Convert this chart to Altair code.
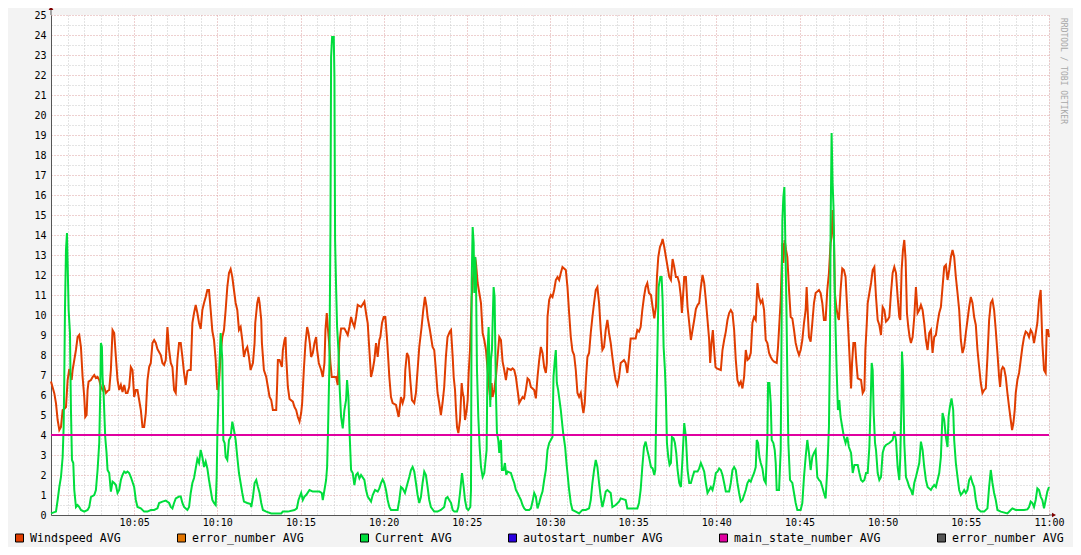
import altair as alt
import pandas as pd

# ---------------- data (minutes after 10:00, value) ----------------
wind_t = [
    0.0, 0.2, 0.3, 0.4, 0.5, 0.6, 0.7, 0.8, 0.9, 1.0,
    1.1, 1.24, 1.3, 1.4, 1.5, 1.6, 1.7, 1.8, 1.9, 2.0,
    2.06, 2.14, 2.2, 2.26, 2.4, 2.5, 2.6, 2.7, 2.8, 2.9,
    3.0, 3.1, 3.2, 3.3, 3.4, 3.5, 3.6, 3.7, 3.8, 3.9,
    4.0, 4.1, 4.2, 4.3, 4.4, 4.5, 4.6, 4.7, 4.8, 4.9,
    5.0, 5.1, 5.2, 5.3, 5.4, 5.5, 5.6, 5.7, 5.8, 5.9,
    6.0, 6.1, 6.2, 6.3, 6.4, 6.6, 6.7, 6.8, 6.9, 7.0,
    7.1, 7.2, 7.3, 7.4, 7.5, 7.6, 7.7, 7.8, 7.9, 8.0,
    8.1, 8.2, 8.3, 8.4, 8.5, 8.6, 8.7, 8.8, 8.9, 9.0,
    9.1, 9.2, 9.3, 9.4, 9.5, 9.6, 9.7, 9.8, 9.9, 10.0,
    10.1, 10.2, 10.3, 10.4, 10.5, 10.6, 10.7, 10.8, 10.9, 11.0,
    11.1, 11.2, 11.3, 11.4, 11.5, 11.6, 11.7, 11.8, 11.9, 12.0,
    12.14, 12.24, 12.28, 12.4, 12.48, 12.54, 12.64, 12.68, 12.8, 12.94,
    13.04, 13.14, 13.24, 13.34, 13.54, 13.6, 13.64, 13.74, 13.88, 13.94,
    14.04, 14.1, 14.14, 14.24, 14.34, 14.54, 14.64, 14.74, 14.84, 14.94,
    15.04, 15.1, 15.2, 15.3, 15.4, 15.48, 15.56, 15.64, 15.74, 15.84,
    15.94, 16.0, 16.1, 16.24, 16.34, 16.44, 16.5, 16.58, 16.64, 16.72,
    16.8, 16.88, 17.04, 17.14, 17.24, 17.34, 17.44, 17.64, 17.84, 17.94,
    18.04, 18.14, 18.24, 18.34, 18.44, 18.64, 18.84, 18.94, 19.04, 19.14,
    19.24, 19.34, 19.44, 19.54, 19.64, 19.74, 19.8, 19.9, 20.0, 20.1,
    20.2, 20.28, 20.34, 20.44, 20.54, 20.74, 20.9, 21.04, 21.14, 21.24,
    21.3, 21.4, 21.5, 21.6, 21.7, 21.84, 21.94, 22.04, 22.14, 22.28,
    22.38, 22.48, 22.58, 22.64, 22.78, 22.94, 23.04, 23.14, 23.24, 23.34,
    23.44, 23.54, 23.64, 23.74, 23.84, 23.98,
    24.05, 24.15, 24.21, 24.29, 24.35, 24.41, 24.49, 24.59, 24.69, 24.75,
    24.81, 24.89, 24.99, 25.05, 25.11, 25.19, 25.29, 25.35, 25.41, 25.49,
    25.55, 25.65, 25.75, 25.85, 25.95, 26.05, 26.15, 26.25, 26.35, 26.41,
    26.49, 26.55, 26.65, 26.75, 26.85, 26.95, 27.05, 27.15, 27.25, 27.35,
    27.45, 27.65, 27.75, 27.85, 27.95, 28.05, 28.15, 28.25, 28.35, 28.45,
    28.55, 28.65, 28.75, 28.85, 29.05, 29.15, 29.25, 29.35, 29.45, 29.55,
    29.65, 29.75, 29.81, 29.85, 29.95, 30.05, 30.15, 30.25, 30.35, 30.45,
    30.55, 30.65, 30.75, 30.95, 31.05, 31.15, 31.25, 31.35, 31.45, 31.55,
    31.65, 31.75, 31.85, 31.95, 32.01, 32.09, 32.17, 32.25, 32.35, 32.45,
    32.55, 32.65, 32.75, 32.85, 32.95, 33.05, 33.15, 33.25, 33.35, 33.45,
    33.55, 33.65, 33.75, 33.85, 33.95, 34.05, 34.15, 34.25, 34.45, 34.55,
    34.65, 34.75, 34.85, 35.15, 35.25, 35.35, 35.45, 35.55, 35.65, 35.75,
    35.85, 35.95,
    36.07, 36.17, 36.27, 36.37, 36.43, 36.51, 36.61, 36.71, 36.77, 36.87,
    36.97, 37.07, 37.17, 37.27, 37.37, 37.47, 37.57, 37.67, 37.77, 37.87,
    37.93, 38.01, 38.07, 38.17, 38.27, 38.37, 38.47, 38.57, 38.67, 38.77,
    38.87, 38.97, 39.07, 39.17, 39.27, 39.37, 39.47, 39.57, 39.63, 39.71,
    39.79, 39.87, 39.95, 40.03, 40.27, 40.37, 40.47, 40.57, 40.67, 40.77,
    40.87, 40.97, 41.07, 41.17, 41.27, 41.37, 41.47, 41.57, 41.67, 41.77,
    41.87, 41.97, 42.07, 42.17, 42.27, 42.37, 42.47, 42.57, 42.67, 42.77,
    42.87, 42.97, 43.07, 43.17, 43.27, 43.37, 43.47, 43.63, 43.71, 43.79,
    43.87, 43.97, 44.03, 44.11, 44.19, 44.27, 44.37, 44.47, 44.57, 44.67,
    44.77, 44.87, 44.97, 45.07, 45.17, 45.27, 45.37, 45.43, 45.51, 45.57,
    45.67, 45.77, 45.87, 45.97, 46.17, 46.27, 46.37, 46.47, 46.57, 46.67,
    46.77, 46.87, 46.93, 46.99, 47.07, 47.13, 47.21, 47.31, 47.37, 47.47,
    47.57, 47.67, 47.77, 47.87, 47.97,
    48.1, 48.16, 48.24, 48.34, 48.42, 48.5, 48.7, 48.8, 48.9, 48.96,
    49.04, 49.1, 49.2, 49.3, 49.4, 49.5, 49.6, 49.7, 49.8, 49.9,
    50.0, 50.1, 50.2, 50.3, 50.4, 50.5, 50.6, 50.7, 50.8, 50.9,
    51.0, 51.06, 51.14, 51.22, 51.3, 51.38, 51.46, 51.54, 51.62, 51.7,
    51.8, 51.9, 52.0, 52.1, 52.2, 52.3, 52.4, 52.5, 52.6, 52.7,
    52.8, 52.9, 53.0, 53.1, 53.2, 53.3, 53.4, 53.5, 53.6, 53.7,
    53.8, 53.9, 54.0, 54.1, 54.2, 54.3, 54.4, 54.5, 54.6, 54.7,
    54.8, 54.9, 55.0, 55.1, 55.2, 55.3, 55.4, 55.5, 55.6, 55.7,
    55.8, 55.9, 56.0, 56.1, 56.2, 56.3, 56.4, 56.5, 56.6, 56.7,
    56.8, 56.9, 57.0, 57.06, 57.14, 57.22, 57.3, 57.4, 57.5, 57.6,
    57.7, 57.78, 57.86, 57.94, 58.0, 58.1, 58.2, 58.3, 58.4, 58.5,
    58.6, 58.7, 58.8, 58.9, 59.0, 59.1, 59.2, 59.3, 59.4, 59.5,
    59.6, 59.7, 59.8, 59.86, 59.94, 60.0,
]
wind_v = [
    6.67, 6.08, 5.58, 4.75, 4.25, 4.4, 5.25, 5.3, 5.4, 6.75,
    7.3, 6.75, 7.25, 7.75, 8.25, 8.9, 9.0, 8.4, 6.9, 5.9,
    4.9, 5.0, 6.25, 6.67, 6.75, 6.9, 7.0, 6.85, 6.9, 6.75,
    6.4, 6.25, 6.4, 6.1, 6.2, 6.25, 7.25, 9.25, 9.1, 7.9,
    6.75, 6.25, 6.5, 6.15, 6.5, 6.1, 6.1, 6.4, 7.4, 7.25,
    5.9, 6.25, 6.25, 5.75, 5.25, 4.4, 4.4, 5.1, 6.75, 7.4,
    7.6, 8.6, 8.75, 8.6, 8.3, 8.0, 7.6, 7.5, 7.75, 9.4,
    8.25, 7.6, 7.4, 6.25, 6.1, 7.75, 8.6, 8.6, 7.9, 7.1,
    6.5, 7.2, 7.25, 7.25, 9.6, 10.1, 10.5, 10.1, 9.6, 9.3,
    10.25, 10.6, 10.9, 11.25, 11.25, 10.25, 9.2, 8.75, 7.75, 6.25,
    6.6, 8.1, 8.9, 9.25, 10.25, 11.4, 12.1, 12.3, 11.9, 11.25,
    10.6, 10.25, 9.25, 9.4, 8.75, 7.9, 8.25, 8.4, 7.9, 7.25,
    7.6, 8.6, 9.6, 10.6, 10.9, 10.6, 9.75, 8.6, 7.25, 6.9,
    6.4, 5.9, 5.75, 5.25, 5.25, 6.6, 7.75, 7.75, 7.4, 8.25,
    8.75, 8.9, 7.9, 6.4, 5.8, 5.67, 5.4, 5.25, 4.9, 4.67,
    5.1, 5.6, 7.25, 8.6, 9.4, 9.1, 8.6, 7.9, 8.1, 8.6,
    8.9, 8.25, 7.6, 7.25, 6.9, 7.6, 9.25, 10.1, 9.4, 8.6,
    7.6, 6.9, 6.9, 6.9, 6.5, 8.6, 9.33, 9.33, 9.0, 9.4,
    9.9, 9.6, 9.4, 9.9, 10.5, 10.4, 10.67, 10.1, 9.6, 8.25,
    6.9, 7.25, 7.75, 8.6, 7.9, 8.75, 8.9, 9.6, 9.9, 9.9,
    8.83, 7.75, 6.9, 5.9, 5.6, 5.5, 4.9, 5.9, 5.6, 5.9,
    7.25, 8.1, 7.9, 6.75, 5.75, 5.6, 6.1, 7.25, 8.4, 9.4,
    10.25, 10.9, 10.4, 9.9, 9.25, 8.4, 8.25, 7.25, 6.1, 5.6,
    5.0, 5.6, 6.4, 7.9, 8.9, 9.17,
    9.25, 7.9, 6.9, 6.25, 5.25, 4.4, 4.1, 4.75, 6.6, 6.1,
    5.9, 4.75, 5.25, 5.75, 7.1, 8.25, 10.9, 11.6, 12.25, 12.9,
    12.6, 11.6, 11.1, 10.6, 9.1, 8.75, 8.25, 7.25, 6.25, 5.75,
    6.6, 5.9, 6.25, 6.9, 7.9, 8.9, 8.75, 7.67, 7.25, 6.75,
    7.33, 7.25, 7.33, 7.25, 6.9, 6.25, 5.6, 5.75, 5.9, 5.83,
    6.25, 6.83, 6.75, 6.4, 6.25, 5.83, 6.9, 7.75, 8.4, 8.1,
    7.4, 7.1, 7.6, 9.9, 10.75, 11.0, 10.9, 11.25, 11.75, 11.9,
    11.75, 12.1, 12.4, 12.25, 11.4, 10.1, 8.9, 8.2, 8.0, 7.25,
    6.1, 5.9, 6.1, 5.4, 5.1, 5.6, 6.9, 7.9, 8.1, 9.1,
    9.9, 10.6, 11.25, 11.4, 10.6, 9.25, 8.25, 8.4, 9.25, 9.75,
    9.1, 8.6, 7.9, 7.25, 6.75, 6.5, 6.9, 7.6, 7.75, 7.6,
    7.1, 7.9, 8.83, 8.83, 9.25, 9.17, 9.4, 10.25, 10.9, 11.4,
    11.6, 11.1,
    11.0, 10.4, 9.83, 10.4, 11.9, 12.9, 13.4, 13.6, 13.8, 13.4,
    12.9, 12.4, 11.9, 11.75, 12.8, 12.4, 11.9, 11.9, 11.6, 10.9,
    10.1, 11.1, 11.9, 11.9, 10.4, 9.6, 8.75, 9.25, 9.75, 10.3,
    10.5, 10.6, 11.4, 12.0, 11.6, 10.75, 9.75, 8.75, 7.6, 8.6,
    9.25, 8.25, 7.4, 7.33, 7.25, 8.25, 8.75, 9.17, 9.75, 10.1,
    10.25, 10.1, 9.25, 7.75, 6.75, 6.5, 6.67, 6.33, 6.9, 8.25,
    7.75, 7.83, 8.1, 9.6, 9.9, 9.75, 11.6, 10.9, 10.6, 10.75,
    10.25, 8.75, 8.6, 8.1, 7.9, 7.75, 7.67, 7.6, 8.4, 9.6,
    10.75, 13.6, 12.6, 13.75, 13.25, 12.9, 11.25, 9.9, 9.83, 9.25,
    8.6, 8.25, 8.0, 8.25, 8.75, 9.6, 10.25, 11.4, 9.9, 8.9,
    8.67, 9.6, 10.6, 11.1, 11.25, 11.1, 10.6, 9.75, 9.75, 11.25,
    12.1, 13.6, 13.9, 15.25, 13.9, 11.1, 10.4, 9.9, 9.75, 11.25,
    12.33, 12.25, 11.9, 10.25, 8.6,
    6.33, 7.6, 8.6, 8.6, 7.6, 6.83, 6.75, 6.1, 6.25, 8.25,
    9.5, 10.6, 11.1, 11.6, 12.25, 12.4, 10.9, 9.75, 9.5, 9.0,
    10.4, 10.25, 9.67, 9.75, 9.9, 11.1, 12.1, 12.4, 12.1, 10.9,
    9.9, 9.75, 12.25, 13.25, 13.75, 12.75, 10.1, 9.4, 8.9, 8.6,
    8.9, 9.9, 11.4, 10.1, 10.25, 10.5, 10.25, 9.6, 8.75, 8.25,
    9.1, 9.25, 8.1, 8.9, 9.0, 9.6, 10.1, 10.4, 11.4, 12.4,
    12.5, 11.75, 12.25, 12.9, 13.25, 12.9, 11.9, 11.1, 10.25, 8.75,
    8.1, 8.4, 9.1, 9.75, 10.4, 10.9, 10.6, 9.9, 9.5, 8.25,
    7.4, 6.6, 6.1, 6.25, 6.33, 7.9, 9.75, 10.6, 10.75, 10.25,
    9.25, 8.1, 6.9, 6.4, 7.25, 7.4, 7.33, 6.9, 6.1, 5.4,
    4.75, 4.25, 4.6, 5.25, 6.1, 6.75, 7.1, 7.75, 8.4, 8.9,
    9.17, 9.1, 8.9, 9.25, 9.1, 8.6, 9.1, 9.6, 10.75, 11.25,
    8.6, 7.25, 7.1, 9.25, 9.25, 8.9,
]

current_t = [
    0.0, 0.3, 0.4, 0.5, 0.6, 0.7, 0.76, 0.8, 0.84, 0.9,
    0.96, 1.0, 1.06, 1.14, 1.2, 1.26, 1.34, 1.4, 1.5, 1.6,
    1.7, 1.8, 2.0, 2.2, 2.3, 2.4, 2.6, 2.7, 2.8, 2.9,
    2.96, 3.0, 3.06, 3.1, 3.16, 3.26, 3.34, 3.4, 3.5, 3.6,
    3.7, 3.8, 3.9, 4.0, 4.1, 4.2, 4.3, 4.4, 4.5, 4.6,
    4.7, 4.8, 5.0, 5.1, 5.2, 5.4, 5.6, 5.8, 6.0, 6.2,
    6.4, 6.5, 6.7, 6.9, 7.1, 7.2, 7.3, 7.4, 7.5, 7.7,
    7.8, 7.9, 8.0, 8.2, 8.3, 8.4, 8.5, 8.6, 8.7, 8.8,
    8.9, 9.0, 9.1, 9.2, 9.3, 9.4, 9.5, 9.6, 9.7, 9.8,
    9.9, 9.96, 10.0, 10.1, 10.2, 10.3, 10.36, 10.44, 10.5, 10.6,
    10.7, 10.8, 10.9, 11.0, 11.1, 11.2, 11.3, 11.4, 11.5, 11.6,
    11.8, 12.0,
    12.04, 12.14, 12.24, 12.34, 12.44, 12.54, 12.64, 12.74, 12.94, 13.24,
    13.84, 13.94, 14.24, 14.64, 14.78, 14.88, 15.04, 15.14, 15.24, 15.34,
    15.54, 15.74, 16.14, 16.28, 16.34, 16.44, 16.54, 16.6, 16.66, 16.74,
    16.8, 16.84, 16.9, 17.0, 17.04, 17.08, 17.14, 17.2, 17.28, 17.36,
    17.44, 17.54, 17.64, 17.74, 17.8, 17.88, 17.96, 18.04, 18.14, 18.24,
    18.34, 18.44, 18.54, 18.64, 18.84, 18.94, 19.04, 19.24, 19.34, 19.48,
    19.64, 19.74, 19.84, 19.94, 20.04, 20.14, 20.24, 20.34, 20.44, 20.84,
    20.94, 21.04, 21.14, 21.28, 21.44, 21.54, 21.64, 21.74, 21.84, 21.94,
    22.04, 22.14, 22.24, 22.34, 22.44, 22.54, 22.64, 22.74, 22.84, 23.04,
    23.24, 23.44, 23.64, 23.74, 23.84, 23.94,
    24.05, 24.15, 24.25, 24.41, 24.49, 24.59, 24.71, 24.81, 24.89, 24.99,
    25.09, 25.21, 25.25, 25.29, 25.35, 25.41, 25.45, 25.51, 25.55, 25.61,
    25.69, 25.77, 25.85, 25.95, 26.05, 26.11, 26.19, 26.25, 26.31, 26.37,
    26.41, 26.45, 26.51, 26.55, 26.61, 26.67, 26.75, 26.81, 26.89, 26.95,
    27.01, 27.05, 27.11, 27.21, 27.29, 27.37, 27.45, 27.65, 27.75, 27.85,
    27.95, 28.05, 28.15, 28.25, 28.35, 28.45, 28.55, 28.75, 28.85, 28.95,
    29.05, 29.15, 29.25, 29.35, 29.45, 29.55, 29.65, 29.75, 29.85, 29.95,
    30.05, 30.15, 30.21, 30.29, 30.35, 30.41, 30.49, 30.57, 30.65, 30.71,
    30.79, 30.85, 30.91, 30.99, 31.05, 31.15, 31.25, 31.35, 31.55, 31.75,
    31.85, 31.95, 32.15, 32.35, 32.45, 32.55, 32.65, 32.75, 32.85, 32.95,
    33.05, 33.15, 33.25, 33.35, 33.45, 33.65, 33.75, 33.95, 34.15, 34.25,
    34.55, 34.65, 35.25, 35.35, 35.45, 35.55, 35.65, 35.75, 35.85, 35.95,
    36.07, 36.17, 36.27, 36.33, 36.39, 36.47, 36.53, 36.63, 36.71, 36.77,
    36.83, 36.91, 36.97, 37.03, 37.11, 37.19, 37.27, 37.33, 37.43, 37.51,
    37.59, 37.67, 37.77, 37.87, 37.97, 38.07, 38.17, 38.27, 38.37, 38.47,
    38.57, 38.67, 38.87, 38.97, 39.07, 39.17, 39.27, 39.37, 39.47, 39.57,
    39.67, 39.77, 39.87, 39.97, 40.07, 40.17, 40.27, 40.37, 40.47, 40.57,
    40.77, 40.87, 40.97, 41.07, 41.17, 41.27, 41.37, 41.47, 41.57, 41.67,
    41.77, 41.87, 41.97, 42.07, 42.17, 42.27, 42.37, 42.43, 42.51, 42.59,
    42.67, 42.77, 42.87, 42.97, 43.07, 43.11, 43.19, 43.27, 43.33, 43.43,
    43.51, 43.57, 43.63, 43.77, 43.87, 43.93, 43.97, 44.03, 44.09, 44.15,
    44.21, 44.27, 44.33, 44.43, 44.57, 44.67, 44.77, 44.87, 45.07, 45.17,
    45.27, 45.37, 45.47, 45.57, 45.67, 45.77, 45.87, 45.97, 46.07, 46.17,
    46.27, 46.37, 46.47, 46.57, 46.67, 46.77, 46.83, 46.87, 46.93, 46.99,
    47.05, 47.11, 47.17, 47.23, 47.31, 47.39, 47.47, 47.57, 47.67, 47.77,
    47.87, 47.97,
    48.1, 48.2, 48.3, 48.5, 48.6, 48.7, 48.8, 48.9, 49.0, 49.1,
    49.2, 49.26, 49.34, 49.4, 49.46, 49.54, 49.6, 49.7, 49.8, 49.9,
    50.0, 50.1, 50.2, 50.4, 50.5, 50.6, 50.7, 50.8, 50.9, 51.0,
    51.06, 51.12, 51.16, 51.22, 51.3, 51.4, 51.5, 51.6, 51.7, 51.8,
    51.9, 52.0, 52.1, 52.2, 52.3, 52.4, 52.5, 52.6, 52.7, 52.8,
    52.9, 53.0, 53.1, 53.2, 53.3, 53.4, 53.5, 53.6, 53.7, 53.8,
    53.9, 53.96, 54.04, 54.14, 54.24, 54.3, 54.4, 54.5, 54.6, 54.7,
    54.8, 54.9, 55.0, 55.1, 55.2, 55.3, 55.4, 55.5, 55.6, 55.7,
    55.9, 56.1, 56.3, 56.4, 56.5, 56.6, 56.7, 56.8, 56.9, 57.1,
    57.5, 57.7, 57.8, 58.0, 58.5, 58.7, 58.8, 58.9, 59.0, 59.1,
    59.2, 59.3, 59.4, 59.5, 59.6, 59.7, 59.8, 59.9, 60.0,
]
current_v = [
    0.08, 0.17, 0.75, 1.4, 1.9, 2.9, 4.4, 6.9, 10.25, 13.25,
    14.1, 12.6, 10.25, 9.1, 5.25, 2.75, 2.6, 1.25, 0.4, 0.5,
    0.4, 0.25, 0.17, 0.25, 0.4, 0.9, 1.0, 1.25, 2.25, 3.6,
    6.1, 8.6, 8.4, 6.9, 6.1, 3.9, 3.1, 2.25, 2.1, 1.17,
    1.67, 1.6, 1.5, 1.1, 1.25, 1.75, 2.0, 2.17, 2.1, 2.17,
    2.1, 1.9, 1.4, 0.75, 0.4, 0.33, 0.17, 0.17, 0.25, 0.25,
    0.33, 0.6, 0.67, 0.72, 0.6, 0.4, 0.33, 0.6, 0.83, 0.92,
    0.92, 0.6, 0.4, 0.25, 0.4, 1.1, 1.6, 1.85, 2.33, 2.8,
    2.6, 3.25, 2.9, 2.4, 2.67, 2.33, 1.75, 1.25, 0.75, 0.6,
    0.5, 1.9, 3.9, 6.9, 9.1, 7.75, 3.75, 3.6, 2.9, 2.75,
    3.75, 3.9, 4.67, 4.25, 3.75, 2.9, 2.1, 1.6, 1.1, 0.67,
    0.6, 0.55,
    0.4, 0.9, 1.6, 1.75, 1.4, 1.1, 0.6, 0.25, 0.17, 0.08,
    0.08, 0.17, 0.17, 0.25, 0.33, 0.75, 1.1, 0.75, 0.92, 1.0,
    1.25, 1.17, 1.17, 1.1, 0.75, 1.25, 1.75, 2.4, 4.4, 7.6,
    14.25, 22.9, 23.9, 23.9, 21.9, 13.75, 11.4, 9.4, 8.25, 6.25,
    4.9, 4.33, 5.25, 5.75, 6.75, 5.9, 3.9, 2.25, 2.1, 1.5,
    2.0, 2.1, 1.83, 2.0, 1.75, 1.25, 0.92, 0.67, 1.0, 1.25,
    1.17, 1.33, 1.6, 1.78, 1.6, 1.25, 0.75, 0.4, 0.25, 0.25,
    0.75, 1.4, 1.33, 1.1, 1.6, 1.9, 2.25, 2.4, 2.17, 1.6,
    1.0, 0.6, 0.9, 1.6, 2.17, 2.0, 1.4, 0.75, 0.4, 0.17,
    0.17, 0.25, 0.4, 0.83, 0.9, 0.75,
    0.6, 0.25, 0.17, 0.17, 0.4, 1.1, 2.1, 1.4, 0.75, 0.33,
    0.25, 0.4, 1.25, 11.6, 14.4, 13.6, 11.1, 12.9, 11.9, 7.25,
    4.9, 3.4, 2.4, 1.9, 2.1, 2.6, 3.25, 8.25, 9.4, 7.1,
    5.4, 7.75, 8.25, 9.6, 11.4, 10.9, 6.1, 4.1, 3.75, 3.1,
    3.6, 3.75, 2.25, 2.25, 2.6, 2.0, 2.17, 2.1, 1.83, 1.6,
    1.25, 1.1, 0.92, 0.75, 0.5, 0.33, 0.25, 0.25, 0.33, 0.67,
    1.1, 0.92, 0.33, 0.6, 0.92, 1.17, 1.75, 2.25, 3.25, 3.6,
    3.75, 3.9, 6.9, 7.75, 8.25, 6.6, 6.25, 5.75, 5.25, 4.75,
    4.1, 3.75, 3.4, 2.6, 2.1, 1.25, 0.6, 0.25, 0.17, 0.08,
    0.17, 0.25, 0.25, 0.33, 0.75, 1.6, 2.25, 2.75, 2.4, 1.6,
    0.9, 0.4, 0.75, 1.17, 1.25, 1.1, 0.4, 0.5, 0.67, 0.83,
    0.75, 0.33, 0.33, 0.6, 1.25, 2.4, 3.4, 3.67, 3.25, 2.9,
    2.4, 2.33, 2.0, 2.25, 5.25, 8.9, 11.4, 11.9, 11.9, 10.75,
    8.4, 7.25, 5.9, 3.6, 2.9, 2.5, 2.6, 3.9, 3.83, 3.6,
    3.1, 2.25, 1.6, 1.4, 2.9, 4.6, 3.9, 2.25, 1.6, 1.6,
    1.9, 2.17, 2.17, 2.33, 2.6, 2.4, 2.17, 1.6, 1.1, 1.25,
    1.4, 1.25, 1.6, 2.1, 2.17, 2.33, 2.25, 2.0, 1.6, 1.17,
    1.17, 1.6, 2.25, 2.4, 2.25, 1.6, 1.1, 0.67, 0.75, 1.0,
    1.25, 1.6, 1.75, 1.67, 1.9, 2.1, 2.4, 3.75, 3.6, 2.9,
    2.6, 2.33, 1.75, 1.6, 3.9, 6.6, 6.6, 5.6, 3.75, 3.6,
    3.25, 2.6, 1.25, 1.25, 3.25, 10.25, 14.75, 15.9, 16.4, 13.6,
    10.6, 6.9, 3.6, 1.75, 1.6, 1.1, 0.6, 0.25, 0.25, 0.6,
    1.9, 2.9, 3.75, 3.1, 2.25, 2.9, 3.1, 3.25, 1.9, 1.75,
    1.67, 1.4, 1.1, 0.83, 2.25, 4.4, 8.25, 14.4, 19.1, 16.6,
    15.25, 11.6, 9.25, 7.33, 5.25, 5.75, 4.9, 4.4, 3.9, 3.6,
    3.9, 3.4,
    3.1, 2.1, 2.5, 2.5, 2.1, 1.75, 1.67, 1.75, 2.1, 2.1,
    3.4, 5.1, 7.6, 7.25, 5.1, 3.6, 3.25, 2.1, 1.75, 1.9,
    3.1, 3.4, 3.5, 3.6, 3.67, 3.75, 4.17, 3.75, 2.4, 1.75,
    2.9, 5.25, 8.17, 7.25, 3.6, 1.9, 1.67, 1.4, 1.25, 1.0,
    1.6, 1.9, 2.25, 2.6, 3.67, 3.25, 2.4, 1.75, 1.4, 1.33,
    1.25, 1.4, 1.5, 1.4, 1.75, 2.1, 2.9, 5.1, 4.75, 3.9,
    3.4, 4.9, 5.4, 5.83, 5.25, 3.75, 2.6, 1.9, 1.25, 1.0,
    1.1, 1.25, 1.1, 1.25, 1.75, 1.9, 1.6, 1.4, 0.75, 0.33,
    0.17, 0.17, 0.33, 1.4, 2.25, 1.6, 1.1, 0.75, 0.25, 0.17,
    0.08, 0.25, 0.33, 0.25, 0.25, 0.28, 0.4, 0.67, 0.6, 0.4,
    0.75, 1.33, 1.25, 0.92, 0.75, 0.33, 0.75, 1.17, 1.4,
]

main_state_t = [0, 60]
main_state_v = [4, 4]

legend_labels = ["Windspeed AVG", "error_number AVG", "Current AVG",
                 "autostart_number AVG", "main_state_number AVG", "error_number AVG"]
legend_colors = ["#E03D00", "#E27500", "#00DD3C", "#2A00E0", "#E000A0", "#555555"]

x_tick_values = list(range(0, 61))
y_tick_values = [i / 2 for i in range(0, 51)]

# ---------------- styling ----------------
MONO = "DejaVu Sans Mono"
W, H = 998, 500

df_wind = pd.DataFrame({"t": wind_t, "v": wind_v})
df_cur = pd.DataFrame({"t": current_t, "v": current_v})
df_main = pd.DataFrame({"t": main_state_t, "v": main_state_v})

x_label_expr = ("datum.value % 5 === 0 && datum.value > 0 ? "
                "(datum.value === 60 ? '11:00' : '10:' + (datum.value < 10 ? '0' : '') + datum.value) : ''")

X = alt.X("t:Q",
          scale=alt.Scale(domain=[0, 60], nice=False, zero=False),
          axis=alt.Axis(values=x_tick_values, labelExpr=x_label_expr, labelOverlap=False,
                        labelFlush=False, grid=True,
                        gridColor={"condition": {"test": "datum.value % 5 === 0", "value": "#DDA0A0"},
                                   "value": "#C8C8C8"},
                        gridDash=[1, 2], gridWidth=1, ticks=False,
                        domainColor="#555555", domainWidth=1,
                        labelFont=MONO, labelFontSize=10, labelColor="#000000",
                        labelPadding=2, title=None))
Y = alt.Y("v:Q",
          scale=alt.Scale(domain=[0, 25], nice=False, zero=True),
          axis=alt.Axis(values=y_tick_values,
                        labelExpr="datum.value % 1 === 0 ? format(datum.value, 'd') : ''",
                        labelOverlap=False, labelFlush=False, grid=True,
                        gridColor={"condition": {"test": "datum.value % 1 === 0", "value": "#DDA0A0"},
                                   "value": "#C8C8C8"},
                        gridDash=[1, 2], gridWidth=1, ticks=False,
                        domainColor="#555555", domainWidth=1,
                        labelFont=MONO, labelFontSize=10, labelColor="#000000",
                        labelPadding=5, title=None))

wind = alt.Chart(df_wind).mark_line(color=legend_colors[0], strokeWidth=2).encode(x=X, y=Y)
cur = alt.Chart(df_cur).mark_line(color=legend_colors[2], strokeWidth=2).encode(x=X, y=Y)
main = alt.Chart(df_main).mark_line(color=legend_colors[4], strokeWidth=2).encode(x=X, y=Y)

one = pd.DataFrame({"a": [0]})
# axis extensions and arrows
y_ext = alt.Chart(one).mark_rule(color="#555555", strokeWidth=1).encode(
    x=alt.value(0), y=alt.value(0), y2=alt.value(-7))
x_ext = alt.Chart(one).mark_rule(color="#555555", strokeWidth=1).encode(
    x=alt.value(W), x2=alt.value(W + 5), y=alt.value(H))
y_arrow = alt.Chart(one).mark_point(shape="triangle-up", filled=True, size=22,
                                    color="#7F0000", opacity=1).encode(
    x=alt.value(0), y=alt.value(-7))
x_arrow = alt.Chart(one).mark_point(shape="triangle-right", filled=True, size=22,
                                    color="#7F0000", opacity=1).encode(
    x=alt.value(W + 5), y=alt.value(H))

# legend (rrdtool-style row under the plot)
legend_layers = []
char_w = 7.0
sq_left = 15.5 - 51
leg_y = 523
for lab, col in zip(legend_labels, legend_colors):
    sq = alt.Chart(one).mark_rect(fill=col, stroke="#000000", strokeWidth=1).encode(
        x=alt.value(sq_left), x2=alt.value(sq_left + 8),
        y=alt.value(leg_y - 4), y2=alt.value(leg_y + 4))
    tx = alt.Chart(one).mark_text(align="left", baseline="middle", font=MONO,
                                  fontSize=11.6, color="#000000").encode(
        x=alt.value(sq_left + 14.5), y=alt.value(leg_y + 0.5), text=alt.value(lab))
    legend_layers += [sq, tx]
    sq_left = sq_left + 14.5 + char_w * len(lab) + 56.5

watermark = alt.Chart(one).mark_text(angle=90, align="center", baseline="middle",
                                     font=MONO, fontSize=8, color="#A8A8A8").encode(
    x=alt.value(1012), y=alt.value(56), text=alt.value("RRDTOOL / TOBI OETIKER"))

chart = alt.layer(wind, cur, main, y_ext, x_ext, y_arrow, x_arrow, watermark,
                  *legend_layers).properties(
    width=W, height=H,
    autosize=alt.AutoSizeParams(type="none"),
    padding={"left": 43, "top": 7, "right": 24, "bottom": 32},
).configure(background="#F3F3F3").configure_view(fill="#FFFFFF", stroke=None)

chart.save("out.html", embed_options={"renderer": "svg", "actions": False})
